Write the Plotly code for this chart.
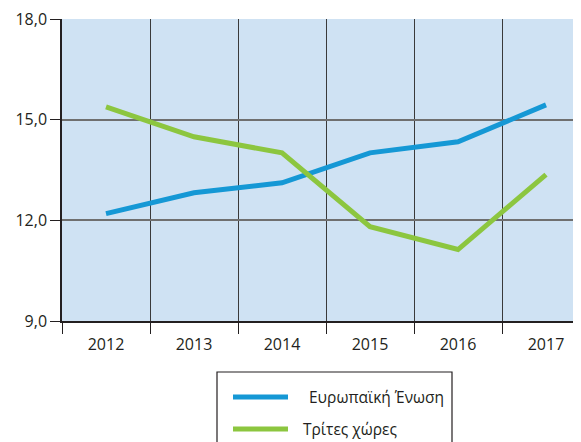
import plotly.graph_objects as go

years = ["2012", "2013", "2014", "2015", "2016", "2017"]
eu_values = [12.2, 12.82, 13.12, 14.01, 14.34, 15.44]
third_values = [15.38, 14.49, 14.01, 11.81, 11.13, 13.36]
series_names = ["Ευρωπαϊκή Ένωση", "Τρίτες χώρες"]
series_colors = ["#1598d5", "#8cc63f"]

# page body has an 8px margin; compensate so the picture lands where the reference is
OFF = 8
W, H = 581, 442 - OFF
ML, MR, MT = 62 - OFF, 0, 19 - OFF
MB = H - (321 - OFF)
plot_w = W - ML - MR
plot_h = H - MT - MB

fig = go.Figure()
for name, vals, col in zip(series_names, [eu_values, third_values], series_colors):
    fig.add_trace(go.Scatter(x=years, y=vals, mode="lines", name=name,
                             line=dict(color=col, width=5), showlegend=False))

font = "Open Sans, Noto Sans, sans-serif"
txt = "#231f20"

cat_px = 88.0
x_right = -0.5 + plot_w / cat_px

fig.update_layout(
    width=W, height=H,
    margin=dict(l=ML, r=MR, t=MT, b=MB),
    paper_bgcolor="white",
    plot_bgcolor="#cfe2f3",
    separators=",.",
    font=dict(family=font, size=16, color=txt),
    xaxis=dict(
        type="category", range=[-0.5, x_right], tickson="boundaries",
        showgrid=True, gridcolor="#3a3a3a", gridwidth=1.3,
        ticks="outside", ticklen=11, tickcolor="#231f20", tickwidth=1.3,
        showline=True, linecolor="#231f20", linewidth=1.5,
        tickfont=dict(size=16, color=txt), zeroline=False,
        ticklabelstandoff=8,
    ),
    yaxis=dict(
        range=[9, 18], tickvals=[9, 12, 15, 18], tickformat=".1f",
        ticklabeloverflow="allow",
        showgrid=True, gridcolor="#6f6f6f", gridwidth=1.5,
        ticks="outside", ticklen=10, tickcolor="#231f20", tickwidth=1.3,
        showline=True, linecolor="#231f20", linewidth=1.5,
        tickfont=dict(size=16, color=txt), zeroline=False,
    ),
)

def py(ypix):
    return (H - MB - (ypix - OFF)) / plot_h

def px(xpix):
    return ((xpix - OFF) - ML) / plot_w

fig.add_shape(type="rect", xref="paper", yref="paper",
              x0=px(217), x1=px(452), y0=py(372), y1=py(470),
              line=dict(color="#231f20", width=1.2), fillcolor="white", layer="above")
legend_y = [397, 429]
text_x = [307, 301]
for i, (name, col) in enumerate(zip(series_names, series_colors)):
    fig.add_shape(type="line", xref="paper", yref="paper",
                  x0=px(233), x1=px(288), y0=py(legend_y[i]), y1=py(legend_y[i]),
                  line=dict(color=col, width=5), layer="above")
    fig.add_annotation(xref="paper", yref="paper", x=px(text_x[i]), y=py(legend_y[i]),
                       text=name, showarrow=False, xanchor="left", yanchor="middle",
                       font=dict(size=15.5, color=txt, family=font))

fig.write_html("out.html")
